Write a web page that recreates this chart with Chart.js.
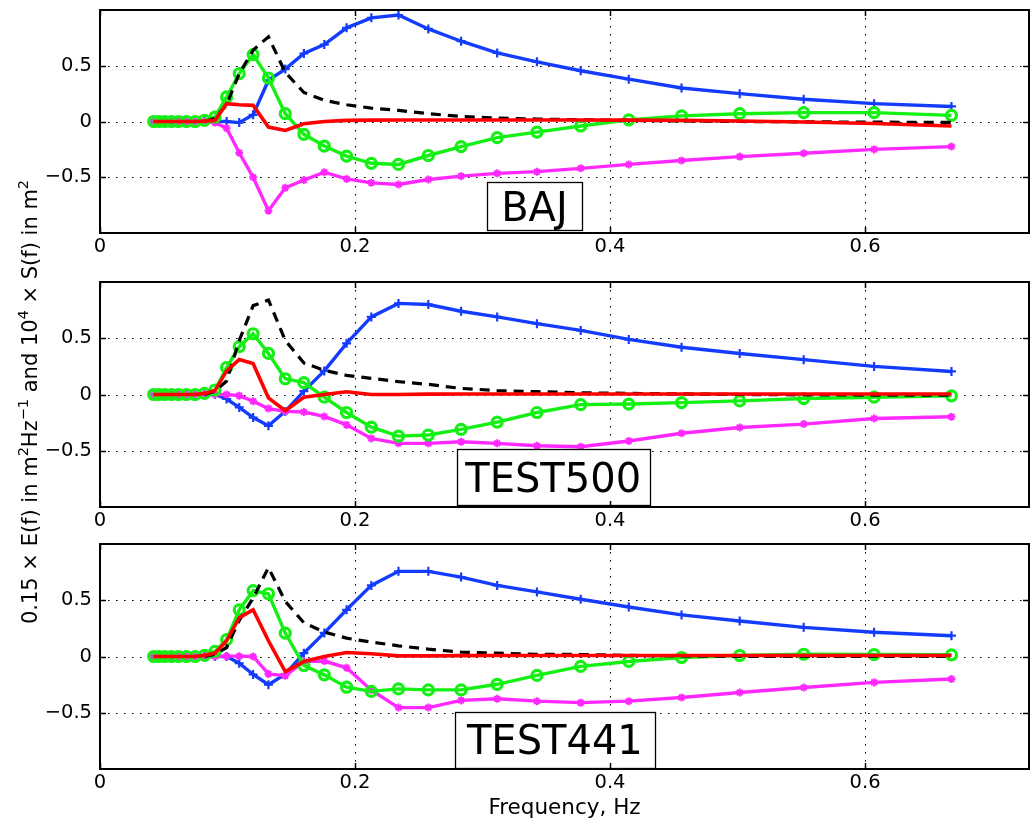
<!DOCTYPE html>
<html><head><meta charset="utf-8">
<script src="https://cdn.jsdelivr.net/npm/chart.js@4/dist/chart.umd.min.js"></script>
<style>
html,body{margin:0;padding:0;background:#fff;}
#wrap{position:relative;width:1030px;height:822px;overflow:hidden;}
#wrap canvas{position:absolute;left:0;top:0;}
</style>
</head><body>
<div id="wrap">
<canvas id="c1" width="1030" height="822"></canvas>
<canvas id="c2" width="1030" height="822"></canvas>
<canvas id="c3" width="1030" height="822"></canvas>
</div>
<script>
// ---------- data ----------
const freq = [0.0421,0.0463,0.0509,0.0560,0.0616,0.0678,0.0746,0.0820,0.0902,0.0993,0.1092,0.1201,0.1321,0.1453,0.1599,0.1759,0.1934,0.2128,0.2341,0.2575,0.2832,0.3115,0.3427,0.3770,0.4147,0.4561,0.5017,0.5519,0.6071,0.6678];
const xTickValues = [0, 0.2, 0.4, 0.6];
const yTickValues = [-0.5, 0, 0.5];
const panelNames = ['BAJ', 'TEST500', 'TEST441'];
const xTitle = 'Frequency, Hz';

// BAJ
const bajBlue    = [0,0,0,0,0,0,0,0,0,0,-0.01,0.06,0.37,0.47,0.61,0.69,0.84,0.93,0.955,0.83,0.72,0.615,0.535,0.455,0.38,0.30,0.25,0.20,0.16,0.135];
const bajGreen   = [0,0,0,0,0,0,0,0.01,0.04,0.22,0.43,0.60,0.39,0.07,-0.115,-0.22,-0.31,-0.375,-0.385,-0.305,-0.225,-0.145,-0.095,-0.04,0.015,0.05,0.07,0.08,0.08,0.055];
const bajMagenta = [0,0,0,0,0,0,0,0,-0.01,-0.06,-0.28,-0.50,-0.80,-0.595,-0.525,-0.455,-0.515,-0.55,-0.565,-0.52,-0.49,-0.465,-0.45,-0.42,-0.385,-0.35,-0.315,-0.285,-0.25,-0.225];
const bajRed     = [0,0,0,0,0,0,0,0.005,0.01,0.16,0.15,0.145,-0.05,-0.08,-0.02,0.0,0.01,0.012,0.013,0.013,0.013,0.013,0.013,0.013,0.012,0.01,0.005,-0.005,-0.018,-0.04];
const bajBlack   = [0,0,0,0,0,0,0,0,0.03,0.15,0.43,0.64,0.76,0.44,0.26,0.19,0.15,0.12,0.10,0.07,0.045,0.03,0.022,0.016,0.01,0.005,0,-0.003,-0.006,-0.008];

// TEST500
const t500Blue    = [0,0,0,0,0,0,0,0,0,-0.04,-0.115,-0.205,-0.278,-0.15,0.03,0.21,0.455,0.69,0.81,0.80,0.74,0.69,0.63,0.57,0.49,0.42,0.365,0.31,0.25,0.205];
const t500Green   = [0,0,0,0,0,0,0,0.01,0.04,0.24,0.425,0.54,0.365,0.14,0.105,-0.024,-0.16,-0.29,-0.37,-0.36,-0.31,-0.245,-0.16,-0.09,-0.085,-0.072,-0.057,-0.036,-0.024,-0.012];
const t500Magenta = [0,0,0,0,0,0,0,0,0,0,-0.01,-0.06,-0.125,-0.15,-0.156,-0.195,-0.27,-0.39,-0.434,-0.434,-0.42,-0.434,-0.455,-0.464,-0.413,-0.344,-0.293,-0.263,-0.213,-0.198];
const t500Red     = [0,0,0,0,0,0,0,0.01,0.035,0.21,0.31,0.275,-0.03,-0.144,-0.024,0,0.024,0,0,0.003,0.005,0.005,0.005,0.005,0.005,0.005,0.005,0.005,0.005,0.005];
const t500Black   = [0,0,0,0,0,0,0,0,0.03,0.12,0.48,0.79,0.84,0.48,0.28,0.215,0.17,0.144,0.114,0.09,0.054,0.035,0.025,0.015,0.01,0.005,0,-0.003,-0.005,-0.005];

// TEST441
const t441Blue    = [0,0,0,0,0,0,0,0,0,0,-0.06,-0.16,-0.25,-0.157,0.03,0.21,0.415,0.632,0.757,0.757,0.706,0.632,0.574,0.509,0.44,0.37,0.315,0.259,0.215,0.185];
const t441Green   = [0,0,0,0,0,0,0,0.01,0.045,0.15,0.415,0.585,0.558,0.208,-0.08,-0.163,-0.273,-0.31,-0.288,-0.297,-0.297,-0.247,-0.168,-0.088,-0.044,-0.009,0.009,0.02,0.018,0.015];
const t441Magenta = [0,0,0,0,0,0,0,0,0,0.003,0.003,0,-0.155,-0.172,-0.045,-0.04,-0.1,-0.3,-0.454,-0.454,-0.39,-0.376,-0.397,-0.41,-0.397,-0.365,-0.32,-0.276,-0.23,-0.2];
const t441Red     = [0,0,0,0,0,0,0,0.01,0.03,0.14,0.345,0.415,0.14,-0.134,-0.045,0,0.036,0.024,0.006,0.006,0.008,0.009,0.009,0.009,0.009,0.009,0.009,0.009,0.009,0.009];
const t441Black   = [0,0,0,0,0,0,0,0,0.02,0.08,0.32,0.52,0.79,0.49,0.3,0.217,0.163,0.128,0.095,0.065,0.039,0.03,0.02,0.018,0.01,0.005,0,0,0,0];

// ---------- presentation ----------
const FONT = "'DejaVu Sans', 'Liberation Sans', sans-serif";
const COL = {blue:'#143cff', green:'#14f014', red:'#ff0000', magenta:'#ff28ff', black:'#000000'};
const X_MAX = 0.7286;
const panelLayout = [
  {top:10,  bottom:233, box:{x0:0.3035, x1:0.378,  yTop:-0.545, yBot:-0.975}},
  {top:282, bottom:507, box:{x0:0.2798, x1:0.431,  yTop:-0.485, yBot:-0.985}},
  {top:544, bottom:769, box:{x0:0.2784, x1:0.4351, yTop:-0.49,  yBot:-0.987}}
];
const X_AXIS_H = 30;

function fmt(v){
  if (Math.abs(v) < 1e-9) return '0';
  return (v < 0 ? '\u2212' : '') + String(Math.round(Math.abs(v)*10)/10);
}
function pts(vals){ return freq.map((f,i)=>({x:f, y:vals[i]})); }

function datasets(blue, green, magenta, red, black){
  return [
    {data:pts(red), borderColor:COL.red, borderWidth:3.6, pointRadius:0, tension:0},
    {data:pts(black), borderColor:COL.black, borderWidth:3.2, borderDash:[10,7], pointRadius:0, tension:0},
    {data:pts(green), borderColor:COL.green, borderWidth:3.4, pointStyle:'circle', pointRadius:5,
      pointBorderWidth:3.2, pointBorderColor:COL.green, pointBackgroundColor:'rgba(0,0,0,0)', tension:0},
    {data:pts(magenta), borderColor:COL.magenta, borderWidth:3.4, pointStyle:'star', pointRadius:4,
      pointBorderWidth:2, pointBorderColor:COL.magenta, pointBackgroundColor:COL.magenta, tension:0},
    {data:pts(blue), borderColor:COL.blue, borderWidth:3.4, pointStyle:'cross', pointRadius:4.5,
      pointBorderWidth:2.2, pointBorderColor:COL.blue, pointBackgroundColor:COL.blue, tension:0}
  ];
}

const gridPlugin = {
  id:'matlabAxes',
  beforeDatasetsDraw(chart){
    const {ctx, chartArea:a, scales:{x, y}} = chart;
    ctx.save();
    ctx.strokeStyle = '#000';
    ctx.lineWidth = 1;
    ctx.setLineDash([1.6, 6.4]);
    yTickValues.forEach(v => {
      const py = Math.round(y.getPixelForValue(v)) + 0.5;
      ctx.beginPath(); ctx.moveTo(a.left, py); ctx.lineTo(a.right, py); ctx.stroke();
    });
    xTickValues.forEach(v => {
      if (v <= 0) return;
      const px = Math.round(x.getPixelForValue(v)) + 0.5;
      ctx.beginPath(); ctx.moveTo(px, a.top); ctx.lineTo(px, a.bottom); ctx.stroke();
    });
    ctx.restore();
  },
  afterDatasetsDraw(chart, args, opts){
    const {ctx, chartArea:a, scales:{x, y}} = chart;
    ctx.save();
    // label box
    const b = opts.box;
    const bx0 = x.getPixelForValue(b.x0), bx1 = x.getPixelForValue(b.x1);
    const by0 = y.getPixelForValue(b.yTop), by1 = y.getPixelForValue(b.yBot);
    ctx.fillStyle = '#fff';
    ctx.fillRect(bx0, by0, bx1-bx0, by1-by0);
    ctx.strokeStyle = '#000'; ctx.lineWidth = 1.3; ctx.setLineDash([]);
    ctx.strokeRect(Math.round(bx0)+0.5, Math.round(by0)+0.5, Math.round(bx1-bx0), Math.round(by1-by0));
    ctx.fillStyle = '#000';
    ctx.font = '40px ' + FONT;
    ctx.textAlign = 'center'; ctx.textBaseline = 'alphabetic';
    ctx.fillText(opts.label, (bx0+bx1)/2, (by0+by1)/2 + 0.729*40/2);
    // frame
    ctx.lineWidth = 2;
    ctx.strokeRect(a.left, a.top, a.right-a.left, a.bottom-a.top);
    // inward ticks
    ctx.lineWidth = 1.5;
    const tl = 6;
    yTickValues.forEach(v => {
      const py = Math.round(y.getPixelForValue(v)) + 0.5;
      ctx.beginPath();
      ctx.moveTo(a.left, py); ctx.lineTo(a.left+tl, py);
      ctx.moveTo(a.right, py); ctx.lineTo(a.right-tl, py);
      ctx.stroke();
    });
    xTickValues.forEach(v => {
      const px = Math.round(x.getPixelForValue(v)) + 0.5;
      ctx.beginPath();
      ctx.moveTo(px, a.bottom); ctx.lineTo(px, a.bottom-tl);
      ctx.moveTo(px, a.top); ctx.lineTo(px, a.top+tl);
      ctx.stroke();
    });
    ctx.restore();
  },
  afterDraw(chart, args, opts){
    if (!opts.titles) return;
    const {ctx, chartArea:a} = chart;
    ctx.save();
    ctx.fillStyle = '#000';
    // x title
    ctx.font = '21.5px ' + FONT;
    ctx.textAlign = 'center'; ctx.textBaseline = 'alphabetic';
    ctx.fillText(xTitle, (a.left + a.right)/2, a.bottom + 45);
    // y title (rotated, with superscripts)
    const parts = [['0.15 \u00d7 E(f) in m',0],['2',1],['Hz',0],['\u22121',1],[' and 10',0],['4',1],[' \u00d7 S(f) in m',0],['2',1]];
    const main = 21, sup = 14.5;
    let total = 0;
    parts.forEach(p => { ctx.font = (p[1]?sup:main) + 'px ' + FONT; total += ctx.measureText(p[0]).width; });
    ctx.translate(37, 402);
    ctx.rotate(-Math.PI/2);
    ctx.textAlign = 'left';
    let cx = -total/2;
    parts.forEach(p => {
      ctx.font = (p[1]?sup:main) + 'px ' + FONT;
      ctx.fillText(p[0], cx, p[1] ? -9 : 0);
      cx += ctx.measureText(p[0]).width;
    });
    ctx.restore();
  }
};

function makePanel(id, idx, sets, titles){
  const L = panelLayout[idx];
  return new Chart(document.getElementById(id), {
    type:'line',
    data:{datasets:sets},
    plugins:[gridPlugin],
    options:{
      responsive:false, animation:false, devicePixelRatio:1,
      layout:{autoPadding:false, padding:{top:L.top, bottom:822 - L.bottom - X_AXIS_H, left:0, right:1}},
      plugins:{legend:{display:false}, tooltip:{enabled:false}, title:{display:false},
        matlabAxes:{box:L.box, label:panelNames[idx], titles:titles}},
      scales:{
        x:{type:'linear', min:0, max:X_MAX,
          grid:{display:false, drawTicks:false}, border:{display:false},
          afterBuildTicks:s => { s.ticks = xTickValues.map(v => ({value:v})); },
          afterFit:s => { s.height = X_AXIS_H; s.paddingLeft = 0; s.paddingRight = 0; },
          ticks:{color:'#000', font:{family:FONT, size:19.5}, padding:2, maxRotation:0, minRotation:0,
            autoSkip:false, callback:v => fmt(v)}},
        y:{type:'linear', min:-1, max:1,
          grid:{display:false, drawTicks:false}, border:{display:false},
          afterBuildTicks:s => { s.ticks = yTickValues.map(v => ({value:v})); },
          afterFit:s => { s.width = 100; s.paddingTop = 0; s.paddingBottom = 0; },
          ticks:{color:'#000', font:{family:FONT, size:19.5}, padding:8, autoSkip:false, callback:v => fmt(v)}}
      }
    }
  });
}

makePanel('c1', 0, datasets(bajBlue, bajGreen, bajMagenta, bajRed, bajBlack), false);
makePanel('c2', 1, datasets(t500Blue, t500Green, t500Magenta, t500Red, t500Black), false);
makePanel('c3', 2, datasets(t441Blue, t441Green, t441Magenta, t441Red, t441Black), true);
</script>
</body></html>
